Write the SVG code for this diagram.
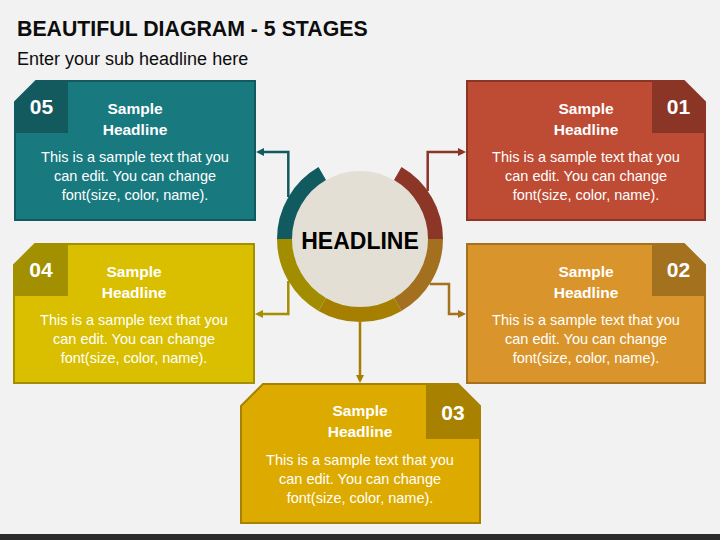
<svg xmlns="http://www.w3.org/2000/svg" width="720" height="540" viewBox="0 0 720 540">
<style>
.title{font-family:"Liberation Sans",Arial,sans-serif;font-weight:bold;font-size:21.3px;fill:#0d0d0d}
.sub{font-family:"Liberation Sans",Arial,sans-serif;font-size:18px;fill:#0d0d0d}
.num{font-family:"Liberation Sans",Arial,sans-serif;font-weight:bold;font-size:21px;fill:#fff;text-anchor:middle}
.hd{font-family:"Liberation Sans",Arial,sans-serif;font-weight:bold;font-size:15.5px;fill:#fff;text-anchor:middle}
.body{font-family:"Liberation Sans",Arial,sans-serif;font-size:14.5px;fill:#fff;text-anchor:middle}
.center{font-family:"Liberation Sans",Arial,sans-serif;font-weight:bold;font-size:23px;fill:#000;text-anchor:middle}
.conn{fill:none;stroke-width:2.5}
.ring{fill:none;stroke-width:15}
.box{stroke-width:2}
</style>
<defs>
<marker id="aTeal" viewBox="0 0 8 8" refX="5" refY="4" markerWidth="8" markerHeight="8" markerUnits="userSpaceOnUse" orient="auto"><path d="M0,0 L8,4 L0,8 z" fill="#115a5f"/></marker>
<marker id="aRed" viewBox="0 0 8 8" refX="5" refY="4" markerWidth="8" markerHeight="8" markerUnits="userSpaceOnUse" orient="auto"><path d="M0,0 L8,4 L0,8 z" fill="#8b3527"/></marker>
<marker id="aOrange" viewBox="0 0 8 8" refX="5" refY="4" markerWidth="8" markerHeight="8" markerUnits="userSpaceOnUse" orient="auto"><path d="M0,0 L8,4 L0,8 z" fill="#a4711f"/></marker>
<marker id="aGold" viewBox="0 0 8 8" refX="5" refY="4" markerWidth="8" markerHeight="8" markerUnits="userSpaceOnUse" orient="auto"><path d="M0,0 L8,4 L0,8 z" fill="#a67f00"/></marker>
<marker id="aOlive" viewBox="0 0 8 8" refX="5" refY="4" markerWidth="8" markerHeight="8" markerUnits="userSpaceOnUse" orient="auto"><path d="M0,0 L8,4 L0,8 z" fill="#a48f00"/></marker>
</defs>
<rect x="0" y="0" width="720" height="540" fill="#f2f2f2"/>
<rect x="0" y="534" width="720" height="6" fill="#2b2b2b"/>
<text class="title" x="17" y="36">BEAUTIFUL DIAGRAM - 5 STAGES</text>
<text class="sub" x="17" y="65">Enter your sub headline here</text>

<g id="connectors">
<path class="conn" stroke="#115a5f" d="M288.3,197 V152 H259" marker-end="url(#aTeal)"/>
<path class="conn" stroke="#8b3527" d="M427.7,191 V152 H463" marker-end="url(#aRed)"/>
<path class="conn" stroke="#a48f00" d="M288.3,281 V314 H258" marker-end="url(#aOlive)"/>
<path class="conn" stroke="#a4711f" d="M429.7,284 H449 V314 H463" marker-end="url(#aOrange)"/>
<path class="conn" stroke="#a67f00" d="M360,322 V380" marker-end="url(#aGold)"/>
</g>

<g id="headline">
<circle cx="360" cy="239" r="68" fill="#e4dfd5"/>
<path class="ring" stroke="#8b3627" d="M397.75,173.62 A75.5,75.5 0 0 1 435.5,239"/>
<path class="ring" stroke="#a3701f" d="M435.5,239 A75.5,75.5 0 0 1 397.75,304.38"/>
<path class="ring" stroke="#a67f00" d="M397.75,304.38 A75.5,75.5 0 0 1 322.25,304.38"/>
<path class="ring" stroke="#a28c00" d="M322.25,304.38 A75.5,75.5 0 0 1 284.5,239"/>
<path class="ring" stroke="#115a5f" d="M284.5,239 A75.5,75.5 0 0 1 322.25,173.62"/>
<text class="center" x="360" y="249">HEADLINE</text>
</g>

<g id="stage05">
<polygon class="box" points="15,102 36,81 255,81 255,220 15,220" fill="#18797f" stroke="#115a5f"/>
<polygon points="15,102 36,81 68,81 68,133 15,133" fill="#135a5f"/>
<text class="num" x="41.5" y="114">05</text>
<text class="hd" x="135" y="114">Sample</text>
<text class="hd" x="135" y="135">Headline</text>
<text class="body" x="135" y="162">This is a sample text that you</text>
<text class="body" x="135" y="181">can edit. You can change</text>
<text class="body" x="135" y="200">font(size, color, name).</text>
</g>

<g id="stage01">
<polygon class="box" points="467,81 684,81 705,102 705,220 467,220" fill="#be4b34" stroke="#8b3527"/>
<polygon points="652,81 684,81 705,102 705,133 652,133" fill="#8b3527"/>
<text class="num" x="678.5" y="114">01</text>
<text class="hd" x="586" y="114">Sample</text>
<text class="hd" x="586" y="135">Headline</text>
<text class="body" x="586" y="162">This is a sample text that you</text>
<text class="body" x="586" y="181">can edit. You can change</text>
<text class="body" x="586" y="200">font(size, color, name).</text>
</g>

<g id="stage04">
<polygon class="box" points="14,265 35,244 254,244 254,383 14,383" fill="#d9bf00" stroke="#a39000"/>
<polygon points="14,265 35,244 68,244 68,296 14,296" fill="#a39000"/>
<text class="num" x="41" y="277">04</text>
<text class="hd" x="134" y="277">Sample</text>
<text class="hd" x="134" y="298">Headline</text>
<text class="body" x="134" y="325">This is a sample text that you</text>
<text class="body" x="134" y="344">can edit. You can change</text>
<text class="body" x="134" y="363">font(size, color, name).</text>
</g>

<g id="stage02">
<polygon class="box" points="467,244 684,244 705,265 705,383 467,383" fill="#d9952b" stroke="#a4711f"/>
<polygon points="652,244 684,244 705,265 705,296 652,296" fill="#a4711f"/>
<text class="num" x="678.5" y="277">02</text>
<text class="hd" x="586" y="277">Sample</text>
<text class="hd" x="586" y="298">Headline</text>
<text class="body" x="586" y="325">This is a sample text that you</text>
<text class="body" x="586" y="344">can edit. You can change</text>
<text class="body" x="586" y="363">font(size, color, name).</text>
</g>

<g id="stage03">
<polygon class="box" points="241,406 263,384 458,384 480,406 480,523 241,523" fill="#ddaa00" stroke="#a88100"/>
<polygon points="426,384 458,384 480,406 480,439 426,439" fill="#a88100"/>
<text class="num" x="453" y="420">03</text>
<text class="hd" x="360" y="416">Sample</text>
<text class="hd" x="360" y="437">Headline</text>
<text class="body" x="360" y="465">This is a sample text that you</text>
<text class="body" x="360" y="484">can edit. You can change</text>
<text class="body" x="360" y="503">font(size, color, name).</text>
</g>
</svg>
